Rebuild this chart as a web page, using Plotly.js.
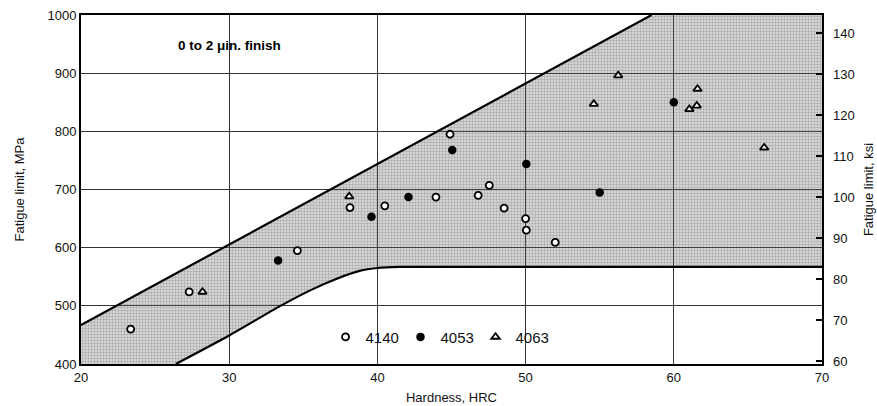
<!DOCTYPE html>
<html>
<head>
<meta charset="utf-8">
<script src="https://cdn.plot.ly/plotly-3.0.1.min.js"></script>
<style>html,body{margin:0;padding:0;background:#fff;}#chart{width:877px;height:406px;}</style>
</head>
<body>
<div id="chart"></div>
<script>
// ---- data ----
const hrc4140 = [23.35, 27.3, 34.6, 38.15, 40.5, 43.95, 44.9, 47.55, 46.8, 48.55, 50.0, 50.05, 52.0];
const mpa4140 = [460, 524, 595, 669, 672, 687, 795, 707, 690, 668, 650, 630, 609];

const hrc4053 = [33.3, 39.6, 42.1, 45.05, 50.05, 55.0, 60.0];
const mpa4053 = [578, 653, 687, 768, 744, 695, 850];

const hrc4063 = [28.2, 38.1, 54.6, 56.25, 61.6, 61.55, 61.05, 66.1];
const mpa4063 = [524, 688, 847, 896, 873, 844, 838, 772];

// scatter band (upper edge then lower edge)
const bandUpperX = [20, 58.5, 70];
const bandUpperY = [467, 1000, 1000];
const bandLowerX = [70, 41.5, 40, 38.8, 37.3, 35.5, 33.4, 30, 26.4, 20];
const bandLowerY = [567, 567, 565, 560, 547, 527, 499, 449, 400, 400];

const xTicks = [20, 30, 40, 50, 60, 70];
const yTicks = [400, 500, 600, 700, 800, 900, 1000];
const ksiTicks = [60, 70, 80, 90, 100, 110, 120, 130, 140];

const FONT = 'Liberation Sans, Arial, sans-serif';

const traces = [
  {
    x: bandUpperX.concat(bandLowerX),
    y: bandUpperY.concat(bandLowerY),
    mode: 'none', fill: 'toself',
    fillcolor: 'rgba(110,110,110,0.3)',
    fillpattern: {shape: '+', bgcolor: 'rgba(110,110,110,0.3)', fgcolor: 'rgba(30,30,30,0.4)', size: 3, solidity: 0.2},
    showlegend: false, hoverinfo: 'skip'
  },
  {
    x: bandUpperX.slice(0, 2), y: bandUpperY.slice(0, 2), mode: 'lines',
    line: {color: '#000', width: 2.2}, showlegend: false, hoverinfo: 'skip'
  },
  {
    x: bandLowerX.slice(0, bandLowerX.length - 1), y: bandLowerY.slice(0, bandLowerY.length - 1), mode: 'lines',
    line: {color: '#000', width: 2.2, shape: 'spline', smoothing: 0.6}, showlegend: false, hoverinfo: 'skip'
  },
  {
    x: hrc4140, y: mpa4140, mode: 'markers', name: '4140',
    marker: {symbol: 'circle', size: 7, color: '#fff', line: {width: 1.8, color: '#000'}}
  },
  {
    x: hrc4053, y: mpa4053, mode: 'markers', name: '4053',
    marker: {symbol: 'circle', size: 8.5, color: '#000'}
  },
  {
    x: hrc4063, y: mpa4063, mode: 'markers', name: '4063',
    marker: {symbol: 'triangle-up', size: 7.5, color: '#fff', line: {width: 1.8, color: '#000'}}
  },
  {
    x: [null], y: [null], yaxis: 'y2', mode: 'markers', showlegend: false, hoverinfo: 'skip'
  }
];

const layout = {
  width: 877, height: 406,
  margin: {l: 81, r: 55, t: 15, b: 42},
  paper_bgcolor: '#fff', plot_bgcolor: '#fff',
  font: {family: FONT, size: 13, color: '#111'},
  showlegend: true,
  legend: {
    orientation: 'h', x: 0.33, y: 0.077, xanchor: 'left', yanchor: 'middle',
    bgcolor: 'rgba(0,0,0,0)', font: {family: FONT, size: 15, color: '#111'},
    itemwidth: 30, tracegroupgap: 0, entrywidth: 30
  },
  xaxis: {
    range: [20, 70], tickvals: xTicks, ticks: '',
    showgrid: true, gridcolor: '#333', gridwidth: 1,
    showline: true, linecolor: '#000', linewidth: 2, mirror: true,
    zeroline: false,
    tickfont: {family: FONT, size: 13, color: '#111'},
    title: {text: 'Hardness, HRC', font: {family: FONT, size: 13, color: '#111'}, standoff: 9}
  },
  yaxis: {
    range: [400, 1000], tickvals: yTicks, ticks: '',
    showgrid: true, gridcolor: '#333', gridwidth: 1,
    showline: true, linecolor: '#000', linewidth: 2, mirror: true,
    zeroline: false,
    tickfont: {family: FONT, size: 13, color: '#111'},
    title: {text: 'Fatigue limit, MPa', font: {family: FONT, size: 13, color: '#111'}, standoff: 20}
  },
  yaxis2: {
    overlaying: 'y', side: 'right', anchor: 'x',
    range: [59.3, 144.4], tickvals: ksiTicks,
    ticks: 'inside', ticklen: 6, tickwidth: 1.5, tickcolor: '#000',
    ticklabelstandoff: 10,
    showgrid: false, zeroline: false, showline: false,
    tickfont: {family: FONT, size: 13, color: '#111'},
    title: {text: 'Fatigue limit, ksi', font: {family: FONT, size: 13, color: '#111'}, standoff: 10}
  },
  annotations: [
    {
      x: 30, y: 947, xref: 'x', yref: 'y', showarrow: false,
      text: '<b>0 to 2 \u03bcin. finish</b>',
      font: {family: FONT, size: 13.5, color: '#000'}
    }
  ]
};

Plotly.newPlot('chart', traces, layout, {displayModeBar: false, staticPlot: true});
</script>
</body>
</html>
